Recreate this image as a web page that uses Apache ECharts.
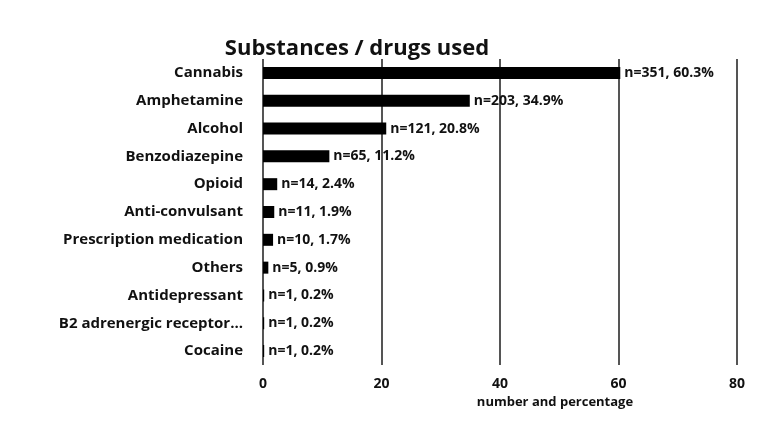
<!DOCTYPE html>
<html><head><meta charset="utf-8">
<script src="https://cdn.jsdelivr.net/npm/echarts@6/dist/echarts.min.js"></script>
<style>html,body{margin:0;padding:0;background:#fff}#c{width:775px;height:423px}</style>
</head><body><div id="c"></div>
<script>
const categories = ["Cannabis","Amphetamine","Alcohol","Benzodiazepine","Opioid","Anti-convulsant","Prescription medication","Others","Antidepressant","B2 adrenergic receptor...","Cocaine"];
const percents = [60.3,34.9,20.8,11.2,2.4,1.9,1.7,0.9,0.2,0.2,0.2];
const counts = [351,203,121,65,14,11,10,5,1,1,1];
const xTicks = [0,20,40,60,80];
const chart = echarts.init(document.getElementById('c'));
chart.setOption({
  backgroundColor:'#fff',
  animation:false,
  title:{text:'Substances / drugs used',left:352,top:33,textAlign:'center',textStyle:{fontFamily:'Open Sans',fontWeight:'bold',fontSize:22,color:'#111'}},
  grid:{left:263,right:38,top:59,bottom:58},
  xAxis:{type:'value',min:xTicks[0],max:xTicks[xTicks.length-1],interval:20,
    name:'number and percentage',nameLocation:'middle',nameGap:30,
    nameTextStyle:{fontFamily:'Open Sans',fontWeight:'bold',fontSize:13,color:'#111',padding:[0,0,0,110]},
    axisLine:{show:false},axisTick:{show:false},
    axisLabel:{fontFamily:'Open Sans',fontWeight:'bold',fontSize:14,color:'#111',margin:12},
    splitLine:{lineStyle:{color:'#555',width:2}}},
  yAxis:{type:'category',data:categories,inverse:true,
    axisLine:{show:false},axisTick:{show:false},
    axisLabel:{fontFamily:'Open Sans',fontWeight:'bold',fontSize:15,color:'#111',margin:20}},
  series:[{type:'bar',data:percents,barWidth:12,itemStyle:{color:'#000'},
    label:{show:true,position:'right',distance:4,fontFamily:'Open Sans',fontWeight:'bold',fontSize:14,color:'#111',
      formatter:p=>'n='+counts[p.dataIndex]+', '+percents[p.dataIndex]+'%'}}]
});
</script></body></html>
